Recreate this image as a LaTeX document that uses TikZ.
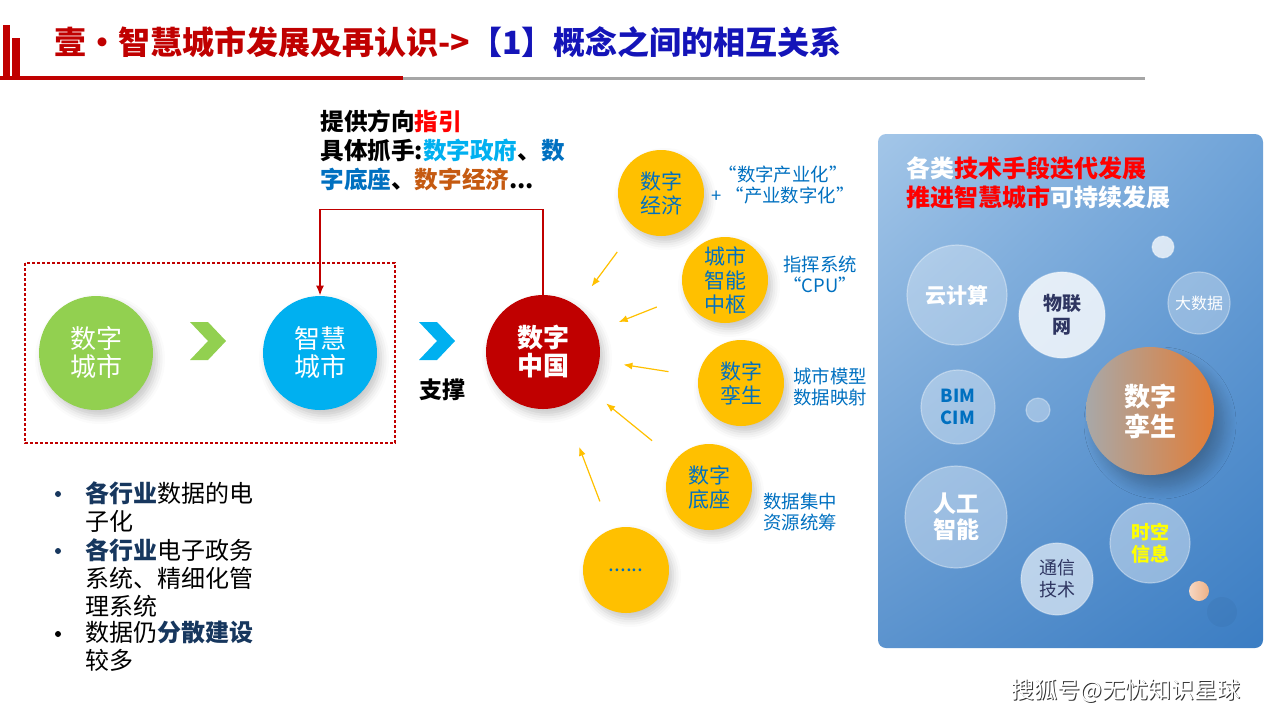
\documentclass[tikz,border=0pt]{standalone}
\usepackage{fontspec}
\setmainfont{Noto Sans CJK SC}
\usetikzlibrary{arrows.meta,calc,positioning,shadings,shadows.blur}
\definecolor{titlered}{HTML}{C00000}
\definecolor{titleblue}{HTML}{1414B8}
\definecolor{rulegray}{HTML}{A6A6A6}
\definecolor{citygreen}{HTML}{92D050}
\definecolor{cityblue}{HTML}{00B0F0}
\definecolor{chinared}{HTML}{C00000}
\definecolor{ballyellow}{HTML}{FFC000}
\definecolor{textblue}{HTML}{0070C0}
\definecolor{pured}{HTML}{FF0000}
\definecolor{rust}{HTML}{C55A11}
\definecolor{navy}{HTML}{17375E}
\definecolor{iotnavy}{HTML}{2E3561}
\definecolor{paneltl}{HTML}{A3C6E8}
\definecolor{paneltr}{HTML}{6FA3D8}
\definecolor{panelbl}{HTML}{5B93CE}
\definecolor{panelbr}{HTML}{3B7DC3}
\definecolor{twingray}{HTML}{A8A8A8}
\definecolor{twinorange}{HTML}{E27D36}
\definecolor{spaceyellow}{HTML}{FFFF00}

\tikzset{
    chevron/.pic={\fill (-18,-19) -- (0,-19) -- (18,0) -- (0,19) -- (-18,19) -- (0,0) -- cycle;}
}

\begin{document}
\begin{tikzpicture}[
    x=0.5pt, y=-0.5pt,
    >=Latex,
    softshadow/.style={blur shadow={shadow xshift=2pt, shadow yshift=-3pt, shadow blur radius=4pt, shadow opacity=22}},
    cityball/.style={circle, minimum size=57pt, inner sep=0pt, align=center, text=white,
        font=\fontsize{13}{14}\selectfont, softshadow},
    yellowball/.style={circle, minimum size=43pt, inner sep=0pt, align=center, fill=ballyellow,
        text=textblue, font=\fontsize{10.5}{12}\selectfont, softshadow},
    sidenote/.style={align=center, text=textblue, inner sep=0pt, font=\fontsize{9.2}{10.5}\selectfont},
    feedarrow/.style={ballyellow, line width=0.6pt, -{Latex[length=4.5pt,width=3.5pt]},
        shorten <=15pt, shorten >=12pt},
    guideline/.style={chinared, line width=0.8pt, -{Latex[length=5pt,width=4pt]}},
    listtext/.style={anchor=north west, inner sep=0pt, align=left, font=\fontsize{12}{14}\selectfont},
    listdot/.style={circle, fill=navy, minimum size=3pt, inner sep=0pt},
    bubble/.style={circle, minimum size=#1, inner sep=0pt, align=center, fill=white, fill opacity=0.3,
        text opacity=1, draw=white, draw opacity=0.35, line width=0.6pt}
]
\useasboundingbox (0,0) rectangle (1280,720);

% -------- title bar --------
\fill[titlered] (3,25) rectangle (10,78);
\fill[titlered] (12,38) rectangle (20,78);
\fill[titlered] (0,76) rectangle (403,80);
\fill[rulegray] (403,77) rectangle (1145,80);
\node[anchor=west, inner sep=0pt, font=\bfseries\fontsize{16}{18}\selectfont] (title) at (54,42)
    {\textcolor{titlered}{壹·智慧城市发展及再认识->}\textcolor{titleblue}{【1】概念之间的相互关系}};

% -------- left: city evolution --------
\draw[titlered, line width=1.4pt, dash pattern=on 1.4pt off 1.1pt] (25,263) rectangle (395,443);

\node[cityball, fill=citygreen] (digital) at (96,353) {数字\\城市};
\node[cityball, fill=cityblue] (smart) at (320,353) {智慧\\城市};
\node[cityball, fill=chinared, font=\bfseries\fontsize{13}{14}\selectfont] (china) at (543,352) {数字\\中国};

\pic[fill=citygreen] at (208,341) {chevron};
\pic[fill=cityblue] at (437,341) {chevron};
\node[font=\bfseries\fontsize{11.5}{13}\selectfont] (support) at (442,390) {支撑};

% guidance from digital China back to smart city
\draw[guideline] (china.north) -- ++(0,-85) -| (smart.north);
\node[anchor=north west, inner sep=0pt, align=left, font=\bfseries\fontsize{11.8}{14.5}\selectfont] (guide) at (320,110)
    {提供方向\textcolor{pured}{指引}\\具体抓手:\textcolor{cityblue}{数字政府}、\textcolor{textblue}{数}\\\textcolor{textblue}{字底座}、\textcolor{rust}{数字经济}...};

% -------- bullet list --------
\node[listtext] (item1) at (85,481) {\textcolor{navy}{\bfseries 各行业}数据的电\\子化};
\node[listtext] (item2) at (85,538) {\textcolor{navy}{\bfseries 各行业}电子政务\\系统、精细化管\\理系统};
\node[listtext] (item3) at (85,621) {数据仍\textcolor{navy}{\bfseries 分散建设}\\较多};
\node[listdot] (dot1) at ($(item1.north west)+(-27,13)$) {};
\node[listdot] (dot2) at ($(item2.north west)+(-27,13)$) {};
\node[listdot, fill=black] (dot3) at ($(item3.north west)+(-27,13)$) {};

% -------- supporting pillars --------
\node[yellowball] (econ) at (661,193) {数字\\经济};
\node[yellowball] (hub) at (725,280) {城市\\智能\\中枢};
\node[yellowball] (twin) at (741,383) {数字\\孪生};
\node[yellowball] (base) at (709,487) {数字\\底座};
\node[yellowball] (more) at (626,570) {......};

\node[sidenote] (econnote) at (783,185) {“数字产业化”\\+ “产业数字化”};
\node[sidenote] (hubnote) at (820,274) {指挥系统\\“CPU”};
\node[sidenote] (twinnote) at (830,387) {城市模型\\数据映射};
\node[sidenote] (basenote) at (800,512) {数据集中\\资源统筹};

\foreach \src in {econ,hub,twin,base}
    \draw[feedarrow] (\src) -- (china);
\draw[feedarrow, shorten >=22pt] (more) -- (china);

% -------- right panel: technologies --------
\shade[rounded corners=4pt, upper left=paneltl, upper right=paneltr, lower left=panelbl, lower right=panelbr]
    (878,134) rectangle (1263,648);
\node[anchor=north west, inner sep=0pt, align=left, text=white, font=\bfseries\fontsize{12}{14.5}\selectfont] (ptitle) at (906,156)
    {各类\textcolor{pured}{技术手段迭代发展}\\\textcolor{pured}{推进智慧城市}可持续发展};

\node[bubble=11pt, fill opacity=0.75] (spot1) at (1163,247) {};
\node[bubble=50pt, text=white, font=\bfseries\fontsize{10.5}{12}\selectfont] (cloud) at (957,295) {云计算};
\node[bubble=43pt, fill opacity=0.8, text=iotnavy, font=\bfseries\fontsize{9.5}{11.5}\selectfont] (iot) at (1062,315) {物联\\网};
\node[bubble=31pt, text=white, font=\fontsize{8}{9}\selectfont] (bigdata) at (1199,303) {大数据};
\node[bubble=37pt, fill opacity=0.35, text=textblue, font=\bfseries\fontsize{9}{11}\selectfont] (bim) at (958,407) {BIM\\CIM};
\node[bubble=12pt, fill opacity=0.35] (spot2) at (1038,410) {};
\node[circle, minimum size=64pt, inner sep=0pt, align=center, left color=twingray, right color=twinorange,
    text=white, font=\bfseries\fontsize{13}{15}\selectfont,
    blur shadow={shadow xshift=5pt, shadow yshift=-6pt, shadow blur radius=6pt, shadow blur steps=12, shadow opacity=25}]
    (dtwin) at (1150,411) {数字\\孪生};
\node[bubble=51pt, fill opacity=0.35, text=white, font=\bfseries\fontsize{11.5}{13}\selectfont] (ai) at (956,517) {人工\\智能};
\node[bubble=36pt, fill opacity=0.6, text=iotnavy, font=\fontsize{9}{11}\selectfont] (comm) at (1057,579) {通信\\技术};
\node[bubble=40pt, fill opacity=0.4, text=spaceyellow, font=\bfseries\fontsize{9.5}{11}\selectfont] (space) at (1150,543) {时空\\信息};
\node[circle, minimum size=10pt, inner sep=0pt, left color=white!70!twinorange, right color=twinorange!60!white] (spot3) at (1199,591) {};
\node[circle, minimum size=15pt, inner sep=0pt, fill=black, fill opacity=0.03] (spot4) at (1222,612) {};

% -------- watermark --------
\node[text=black!80, font=\fontsize{11.5}{13}\selectfont] (wmshade) at (1127,692) {搜狐号@无忧知识星球};
\node[text=white, font=\fontsize{11.5}{13}\selectfont] (wm) at (1126,691) {搜狐号@无忧知识星球};

\end{tikzpicture}
\end{document}
